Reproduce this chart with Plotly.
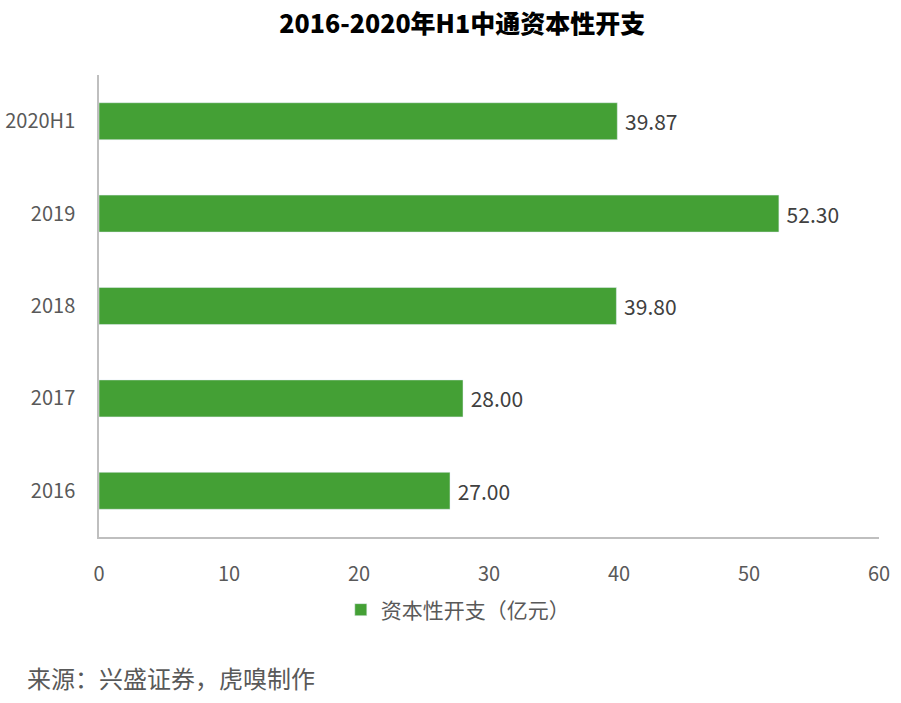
import plotly.graph_objects as go

years = ['2016', '2017', '2018', '2019', '2020H1']
capex = [27.00, 28.00, 39.80, 52.30, 39.87]
series_name = '资本性开支（亿元）'
title = '2016-2020年H1中通资本性开支'
source = '来源：兴盛证券，虎嗅制作'

font = 'Noto Sans CJK SC'
grey = '#595959'

bar = go.Bar(
    y=years,
    x=capex,
    orientation='h',
    name=series_name,
    marker=dict(color='#44A035'),
    width=0.4,
    text=[' {:.2f}'.format(v) for v in capex],
    textposition='outside',
    textfont=dict(family=font, size=21, color='#404040'),
    cliponaxis=False,
)

layout = go.Layout(
    width=901,
    height=703,
    margin=dict(l=99, r=22, t=75, b=166),
    paper_bgcolor='white',
    plot_bgcolor='white',
    font=dict(family=font, color=grey),
    title=dict(
        text=title,
        x=0.513, xanchor='center',
        y=0.966, yanchor='middle',
        font=dict(family=font, size=25, color='black', weight=900),
    ),
    xaxis=dict(
        range=[0, 60],
        dtick=10,
        showgrid=False,
        zeroline=False,
        showline=True,
        linecolor='#BFBFBF',
        linewidth=1.5,
        ticks='',
        ticklabelstandoff=18,
        tickfont=dict(family=font, size=20, color=grey),
    ),
    yaxis=dict(
        automargin=False,
        showgrid=False,
        showline=True,
        linecolor='#BFBFBF',
        linewidth=1.5,
        ticks='',
        ticklabelstandoff=18,
        tickfont=dict(family=font, size=20, color=grey),
    ),
    showlegend=True,
    legend=dict(
        orientation='h',
        x=0.46, xanchor='center',
        y=-0.158, yanchor='middle',
        font=dict(family=font, size=21, color=grey),
        itemwidth=30,
    ),
    annotations=[
        dict(
            text=source,
            xref='paper', yref='paper',
            x=-0.095, xanchor='left',
            y=-0.305, yanchor='middle',
            showarrow=False,
            font=dict(family=font, size=24, color=grey),
        )
    ],
)

fig = go.Figure(data=[bar], layout=layout)
# drop the browser's default 8px body margin so the figure fills the window
fig.write_html('out.html', config={'displayModeBar': False},
               post_script="document.body.style.margin='0';")
